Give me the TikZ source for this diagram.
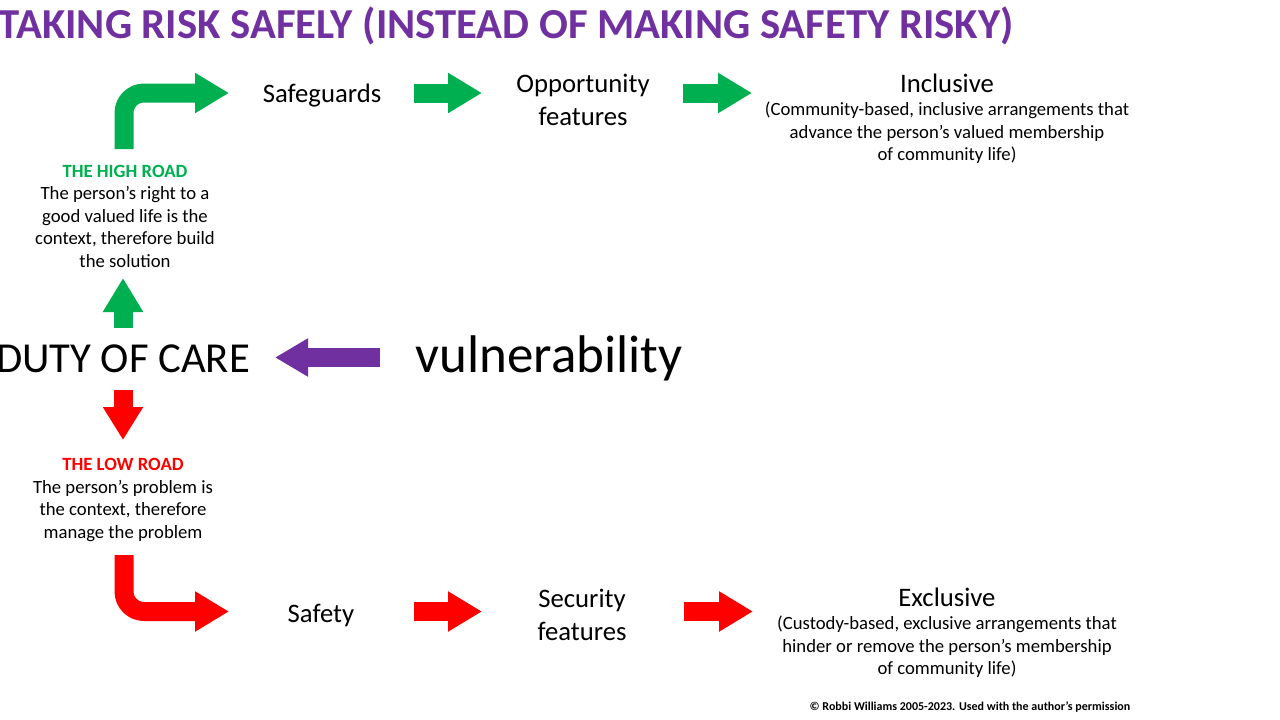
\documentclass[tikz,border=0pt]{standalone}
\usepackage{fontspec}
\setmainfont{Carlito}
\usetikzlibrary{arrows.meta}
\definecolor{tgreen}{HTML}{00B050}
\definecolor{tred}{HTML}{FF0000}
\definecolor{tpurple}{HTML}{7030A0}
\tikzset{
  mid/.style={font=\fontsize{26.7}{32.5}\selectfont, align=center, inner sep=0pt},
  small/.style={font=\fontsize{18.7}{22.5}\selectfont, align=center, inner sep=0pt},
  blockarrow/.style={line width=19pt, line cap=butt, line join=round, -{Triangle[length=34pt,width=38pt]}},
  gblock/.style={blockarrow, draw=tgreen},
  rblock/.style={blockarrow, draw=tred},
  pblock/.style={blockarrow, draw=tpurple, -{Triangle[length=33pt,width=36pt]}},
}
\begin{document}
\begin{tikzpicture}[x=1pt,y=-1pt]
\useasboundingbox[fill=white] (0,0) rectangle (1280,720);
% title
\node[font=\fontsize{42.7}{50}\selectfont\bfseries, text=tpurple, inner sep=0pt, anchor=base] (title) at (506,38) {TAKING RISK SAFELY (INSTEAD OF MAKING SAFETY RISKY)};
% high road row
\node[mid, anchor=base] (safeguards) at (322,102) {Safeguards};
\node[mid] (opp) at (583,100) {Opportunity\\features};
\node[mid, anchor=base] (incl) at (947,92) {Inclusive};
\node[small] (incldesc) at (947,133) {(Community-based, inclusive arrangements that\\advance the person’s valued membership\\of community life)};
% high road text
\node[small] (high) at (125,216) {\textcolor{tgreen}{\textbf{THE HIGH ROAD}}\\The person’s right to a\\good valued life is the\\context, therefore build\\the solution};
% centre
\node[font=\fontsize{42.7}{50}\selectfont, inner sep=0pt, anchor=base] (duty) at (123,372) {DUTY OF CARE};
\node[font=\fontsize{53}{60}\selectfont, inner sep=0pt, anchor=base] (vuln) at (549,372) {vulnerability};
% low road text
\node[small] (low) at (123,500) {\textcolor{tred}{\textbf{THE LOW ROAD}}\\The person’s problem is\\the context, therefore\\manage the problem};
% low road row
\node[mid, anchor=base] (safety) at (321,622) {Safety};
\node[mid] (sec) at (582,615) {Security\\features};
\node[mid, anchor=base] (excl) at (947,606) {Exclusive};
\node[small] (excldesc) at (947,647) {(Custody-based, exclusive arrangements that\\hinder or remove the person’s membership\\of community life)};
% footer
\node[font=\fontsize{12}{14}\selectfont\bfseries, inner sep=0pt, anchor=base] (foot) at (970,710) {© Robbi Williams 2005-2023. Used with the author’s permission};
% coordinates for arrows
\coordinate (gb0) at (124,149);
\coordinate (gb1) at (124,93);
\coordinate (gb2) at (229,93);
\coordinate (g1a) at (414,93);
\coordinate (g1b) at (482,93);
\coordinate (g2a) at (683,93);
\coordinate (g2b) at (752,93);
\coordinate (upa) at (123,328);
\coordinate (upb) at (123,278);
\coordinate (dna) at (123,390);
\coordinate (dnb) at (123,440);
\coordinate (pa) at (380,357.5);
\coordinate (pb) at (275,357.5);
\coordinate (rb0) at (124,555);
\coordinate (rb1) at (124,611.5);
\coordinate (rb2) at (229,611.5);
\coordinate (r1a) at (414,611.5);
\coordinate (r1b) at (482,611.5);
\coordinate (r2a) at (684,611.5);
\coordinate (r2b) at (753,611.5);
% arrows
\draw[gblock, rounded corners=20pt] (gb0) -- (gb1) -- (gb2);
\draw[gblock] (g1a) -- (g1b);
\draw[gblock] (g2a) -- (g2b);
\draw[gblock, -{Triangle[length=34pt,width=38pt]}] (upa) -- (upb);
\draw[rblock, -{Triangle[length=33pt,width=38pt]}] (dna) -- (dnb);
\draw[pblock] (pa) -- (pb);
\draw[rblock, rounded corners=20pt] (rb0) -- (rb1) -- (rb2);
\draw[rblock] (r1a) -- (r1b);
\draw[rblock] (r2a) -- (r2b);
\end{tikzpicture}
\end{document}
